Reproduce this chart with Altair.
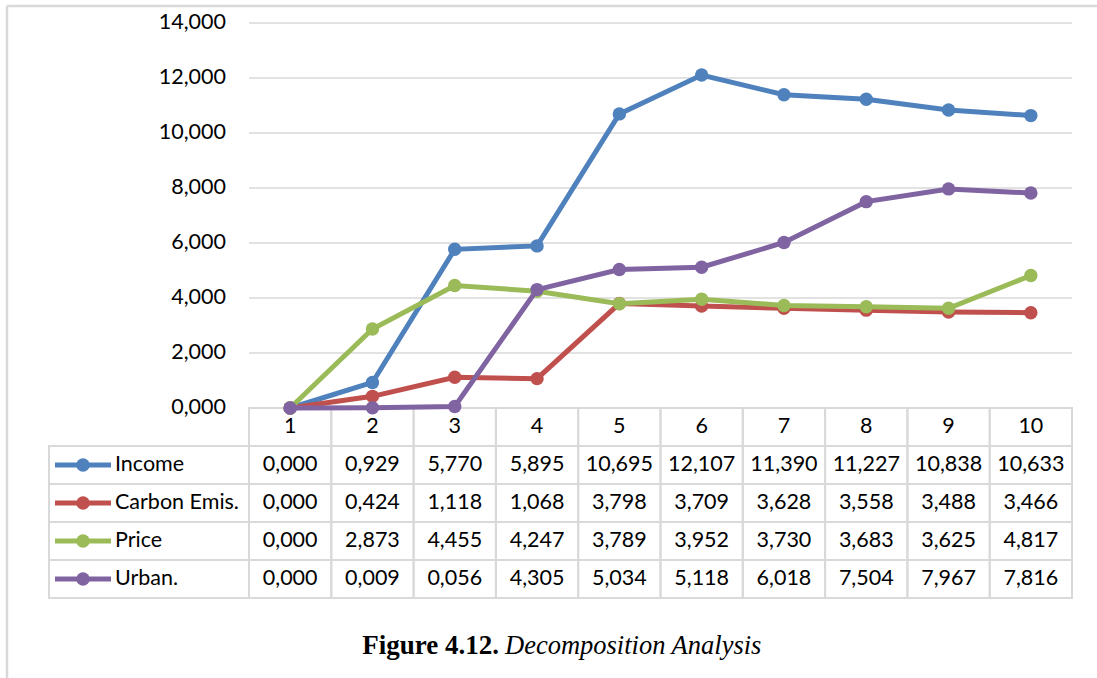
import altair as alt
import pandas as pd

# ---- data -------------------------------------------------------------
periods = list(range(1, 11))
series_names = ["Income", "Carbon Emis.", "Price", "Urban."]
income = [0.000, 0.929, 5.770, 5.895, 10.695, 12.107, 11.390, 11.227, 10.838, 10.633]
carbon = [0.000, 0.424, 1.118, 1.068, 3.798, 3.709, 3.628, 3.558, 3.488, 3.466]
price = [0.000, 2.873, 4.455, 4.247, 3.789, 3.952, 3.730, 3.683, 3.625, 4.817]
urban = [0.000, 0.009, 0.056, 4.305, 5.034, 5.118, 6.018, 7.504, 7.967, 7.816]
y_ticks = [0, 2, 4, 6, 8, 10, 12, 14]
colors = ["#4F81BD", "#C0504D", "#9BBB59", "#8064A2"]
caption_bold = "Figure 4.12."
caption_italic = "Decomposition Analysis"

# ---- layout (pixels) --------------------------------------------------
PAD_L, PAD_T, PAD_R, PAD_B = 49, 23, 25, 80
LEGEND_W = 200          # width of the legend column of the data table
COL_W = 82.3            # width of one period column
PLOT_H = 385            # height of the line plot
ROW_H = 38              # height of one table row
N_ROWS = 1 + len(series_names)
W = LEGEND_W + COL_W * len(periods)
H = PLOT_H + ROW_H * N_ROWS
Y_TOP = max(y_ticks)
X_MIN = 0.5 - LEGEND_W / COL_W
RU = Y_TOP * ROW_H / PLOT_H            # one table row in value units
Y_MIN = -RU * N_ROWS

GRID = "#d9d9d9"
FONT = "Lato"
FS = 21.5

xs = alt.Scale(domain=[X_MIN, len(periods) + 0.5], nice=False, zero=False)
ys = alt.Scale(domain=[Y_MIN, Y_TOP], nice=False, zero=False)
cs = alt.Scale(domain=series_names, range=colors)

values = {"Income": income, "Carbon Emis.": carbon, "Price": price, "Urban.": urban}
long_df = pd.DataFrame(
    [
        {"series": s, "row": k + 1, "period": p, "value": v}
        for k, s in enumerate(series_names)
        for p, v in zip(periods, values[s])
    ]
)

NUM_FMT = "replace(format(datum.{f}, '.3f'), '.', ',')"

# ---- gridlines and value labels ---------------------------------------
tick_df = pd.DataFrame({"v": y_ticks})
grid = (
    alt.Chart(tick_df)
    .transform_calculate(xa="0.5", xb=f"{len(periods) + 0.5}")
    .mark_rule(color=GRID, strokeWidth=1.5)
    .encode(
        x=alt.X("xa:Q", scale=xs, axis=None),
        x2="xb:Q",
        y=alt.Y("v:Q", scale=ys, axis=None),
    )
)
ylabels = (
    alt.Chart(tick_df)
    .transform_calculate(xa="0.5", lab=NUM_FMT.format(f="v"))
    .mark_text(align="right", baseline="middle", dx=-23, font=FONT, fontSize=FS, color="#000000")
    .encode(
        x=alt.X("xa:Q", scale=xs, axis=None),
        y=alt.Y("v:Q", scale=ys, axis=None),
        text="lab:N",
    )
)

# ---- series: line and markers, drawn one series at a time --------------
series_layers = []
for s in series_names:
    base = alt.Chart(long_df).transform_filter(alt.datum.series == s)
    enc = dict(
        x=alt.X("period:Q", scale=xs, axis=None),
        y=alt.Y("value:Q", scale=ys, axis=None),
        color=alt.Color("series:N", scale=cs, legend=None),
    )
    series_layers.append(base.mark_line(strokeWidth=5).encode(**enc))
    series_layers.append(base.mark_point(filled=True, size=180, opacity=1).encode(**enc))

# ---- data table --------------------------------------------------------
cell_rows = [
    {"x0": p - 0.5, "x1": p + 0.5, "r": r} for p in periods for r in range(N_ROWS)
] + [{"x0": X_MIN, "x1": 0.5, "r": r} for r in range(1, N_ROWS)]
cells = (
    alt.Chart(pd.DataFrame(cell_rows))
    .transform_calculate(y0=f"-datum.r * {RU}", y1=f"-(datum.r + 1) * {RU}")
    .mark_rect(fill="white", fillOpacity=0, stroke=GRID, strokeWidth=2)
    .encode(
        x=alt.X("x0:Q", scale=xs, axis=None),
        x2="x1:Q",
        y=alt.Y("y0:Q", scale=ys, axis=None),
        y2="y1:Q",
    )
)

header = (
    alt.Chart(pd.DataFrame({"period": periods}))
    .transform_calculate(yc=f"-0.5 * {RU}")
    .mark_text(baseline="middle", font=FONT, fontSize=FS, color="#000000")
    .encode(
        x=alt.X("period:Q", scale=xs, axis=None),
        y=alt.Y("yc:Q", scale=ys, axis=None),
        text="period:N",
    )
)

cell_text = (
    alt.Chart(long_df)
    .transform_calculate(yc=f"-(datum.row + 0.5) * {RU}", lab=NUM_FMT.format(f="value"))
    .mark_text(baseline="middle", font=FONT, fontSize=FS, color="#000000")
    .encode(
        x=alt.X("period:Q", scale=xs, axis=None),
        y=alt.Y("yc:Q", scale=ys, axis=None),
        text="lab:N",
    )
)

# legend keys inside the first table column
key_df = pd.DataFrame({"series": series_names, "row": list(range(1, N_ROWS))})
key_base = alt.Chart(key_df).transform_calculate(
    yc=f"-(datum.row + 0.5) * {RU}",
    ka=f"{X_MIN + 6 / COL_W}",
    kb=f"{X_MIN + 62 / COL_W}",
    km=f"{X_MIN + 34 / COL_W}",
    kt=f"{X_MIN + 66 / COL_W}",
)
key_line = key_base.mark_rule(strokeWidth=5).encode(
    x=alt.X("ka:Q", scale=xs, axis=None),
    x2="kb:Q",
    y=alt.Y("yc:Q", scale=ys, axis=None),
    color=alt.Color("series:N", scale=cs, legend=None),
)
key_dot = key_base.mark_point(filled=True, size=180, opacity=1).encode(
    x=alt.X("km:Q", scale=xs, axis=None),
    y=alt.Y("yc:Q", scale=ys, axis=None),
    color=alt.Color("series:N", scale=cs, legend=None),
)
key_text = key_base.mark_text(align="left", baseline="middle", font=FONT, fontSize=FS, color="#000000").encode(
    x=alt.X("kt:Q", scale=xs, axis=None),
    y=alt.Y("yc:Q", scale=ys, axis=None),
    text="series:N",
)

# ---- caption and chart-area frame --------------------------------------
one = pd.DataFrame({"k": [0]})
cap_x = 450
cap_y = 631
cap1 = alt.Chart(one).mark_text(
    text=caption_bold, align="right", baseline="alphabetic",
    font="Liberation Serif", fontSize=27, fontWeight="bold", color="#000000",
).encode(x=alt.value(cap_x), y=alt.value(cap_y))
cap2 = alt.Chart(one).mark_text(
    text=caption_italic, align="left", baseline="alphabetic",
    font="Liberation Serif", fontSize=26.5, fontStyle="italic", color="#000000",
).encode(x=alt.value(cap_x + 6), y=alt.value(cap_y))

frame_top = alt.Chart(one).mark_rule(color=GRID, strokeWidth=2.5).encode(
    x=alt.value(-42), x2=alt.value(1097 - PAD_L), y=alt.value(-17)
)
frame_left = alt.Chart(one).mark_rule(color=GRID, strokeWidth=2.5).encode(
    x=alt.value(-42), y=alt.value(-17), y2=alt.value(678 - PAD_T)
)

chart = (
    alt.layer(
        frame_top, frame_left, grid, ylabels, cells, header, cell_text,
        key_line, key_dot, key_text, *series_layers, cap1, cap2,
    )
    .properties(
        width=W,
        height=H,
        padding={"left": PAD_L, "top": PAD_T, "right": PAD_R, "bottom": PAD_B},
        autosize=alt.AutoSizeParams(type="none"),
        background="white",
    )
    .configure_view(strokeWidth=0)
)

chart.save("out.html", embed_options={"renderer": "svg", "actions": False})
